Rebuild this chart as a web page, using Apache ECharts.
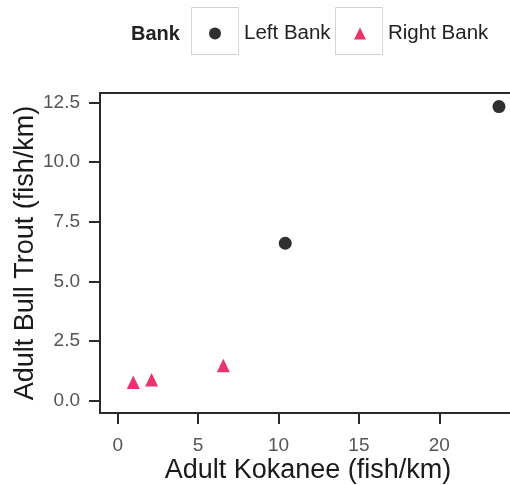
<!DOCTYPE html>
<html>
<head>
<meta charset="utf-8">
<script src="https://cdn.jsdelivr.net/npm/echarts@6/dist/echarts.min.js"></script>
<style>
  html, body { margin: 0; padding: 0; background: #ffffff; }
  #chart { width: 510px; height: 485px; }
</style>
</head>
<body>
<div id="chart"></div>
<script>
// Adult bull trout vs. adult kokanee densities, by stream bank
const seriesNames = ['Left Bank', 'Right Bank'];
const leftKokanee = [10.42, 23.71];
const leftBullTrout = [6.60, 12.33];
const rightKokanee = [0.97, 2.11, 6.57];
const rightBullTrout = [0.68, 0.78, 1.38];
const xTicks = [0, 5, 10, 15, 20];
const yTicks = [0, 2.5, 5, 7.5, 10, 12.5];

const FONT = '"Liberation Sans", Arial, Helvetica, sans-serif';
const DOT_COLOR = '#2f2f2f';
const TRI_COLOR = '#e8336d';

const pairs = (xs, ys) => xs.map((x, i) => [x, ys[i]]);

const legendText = { fontFamily: FONT, fontSize: 20.5, color: '#222222' };
const keyBox = x => ({
  type: 'rect', shape: { x: x, y: 7.5, width: 47, height: 47 },
  style: { fill: 'none', stroke: '#d4d4d4', lineWidth: 1 }, z: -1
});

const chart = echarts.init(document.getElementById('chart'), null, { renderer: 'canvas' });

chart.setOption({
  backgroundColor: '#ffffff',
  animation: false,
  grid: {
    left: 100, top: 93, width: 416, height: 320,
    outerBoundsMode: 'none', containLabel: false,
    show: true, borderColor: '#2a2a2a', borderWidth: 2, backgroundColor: 'transparent'
  },
  xAxis: {
    type: 'value', min: -1.1, max: 24.77,
    name: 'Adult Kokanee (fish/km)', nameLocation: 'middle', nameGap: 44, nameMoveOverlap: false,
    nameTextStyle: { fontFamily: FONT, fontSize: 27, color: '#1a1a1a' },
    axisLine: { show: false, onZero: false },
    splitLine: { show: false },
    axisTick: { show: true, customValues: xTicks, length: 11, lineStyle: { color: '#2a2a2a', width: 2 } },
    axisLabel: { customValues: xTicks, margin: 23, fontFamily: FONT, fontSize: 19, color: '#555555' }
  },
  yAxis: {
    type: 'value', min: -0.52, max: 12.9,
    name: 'Adult Bull Trout (fish/km)', nameLocation: 'middle', nameGap: 61, nameMoveOverlap: false,
    nameTextStyle: { fontFamily: FONT, fontSize: 27, color: '#1a1a1a' },
    axisLine: { show: false, onZero: false },
    splitLine: { show: false },
    axisTick: { show: true, customValues: yTicks, length: 11, lineStyle: { color: '#2a2a2a', width: 2 } },
    axisLabel: {
      customValues: yTicks, margin: 20, fontFamily: FONT, fontSize: 19, color: '#555555',
      formatter: v => v.toFixed(1)
    }
  },
  legend: [
    {
      left: 209, top: 23, padding: 0, itemWidth: 12, itemHeight: 12,
      textStyle: Object.assign({ padding: [0, 0, 0, 18] }, legendText),
      data: [{ name: seriesNames[0], icon: 'circle' }]
    },
    {
      left: 354, top: 23, padding: 0, itemWidth: 12, itemHeight: 12,
      textStyle: Object.assign({ padding: [0, 0, 0, 17] }, legendText),
      data: [{ name: seriesNames[1], icon: 'triangle' }]
    }
  ],
  graphic: [
    { type: 'text', left: 131, top: 24, style: { text: 'Bank', font: 'bold 20px ' + FONT, fill: '#222222' } },
    keyBox(191.5),
    keyBox(335.5)
  ],
  series: [
    {
      name: seriesNames[0], type: 'scatter', symbol: 'circle', symbolSize: 13,
      itemStyle: { color: DOT_COLOR, opacity: 1 },
      data: pairs(leftKokanee, leftBullTrout)
    },
    {
      name: seriesNames[1], type: 'scatter', symbol: 'triangle', symbolSize: [13, 13.5],
      symbolOffset: [0, -2.2],
      itemStyle: { color: TRI_COLOR, opacity: 1 },
      data: pairs(rightKokanee, rightBullTrout)
    }
  ]
});
</script>
</body>
</html>
